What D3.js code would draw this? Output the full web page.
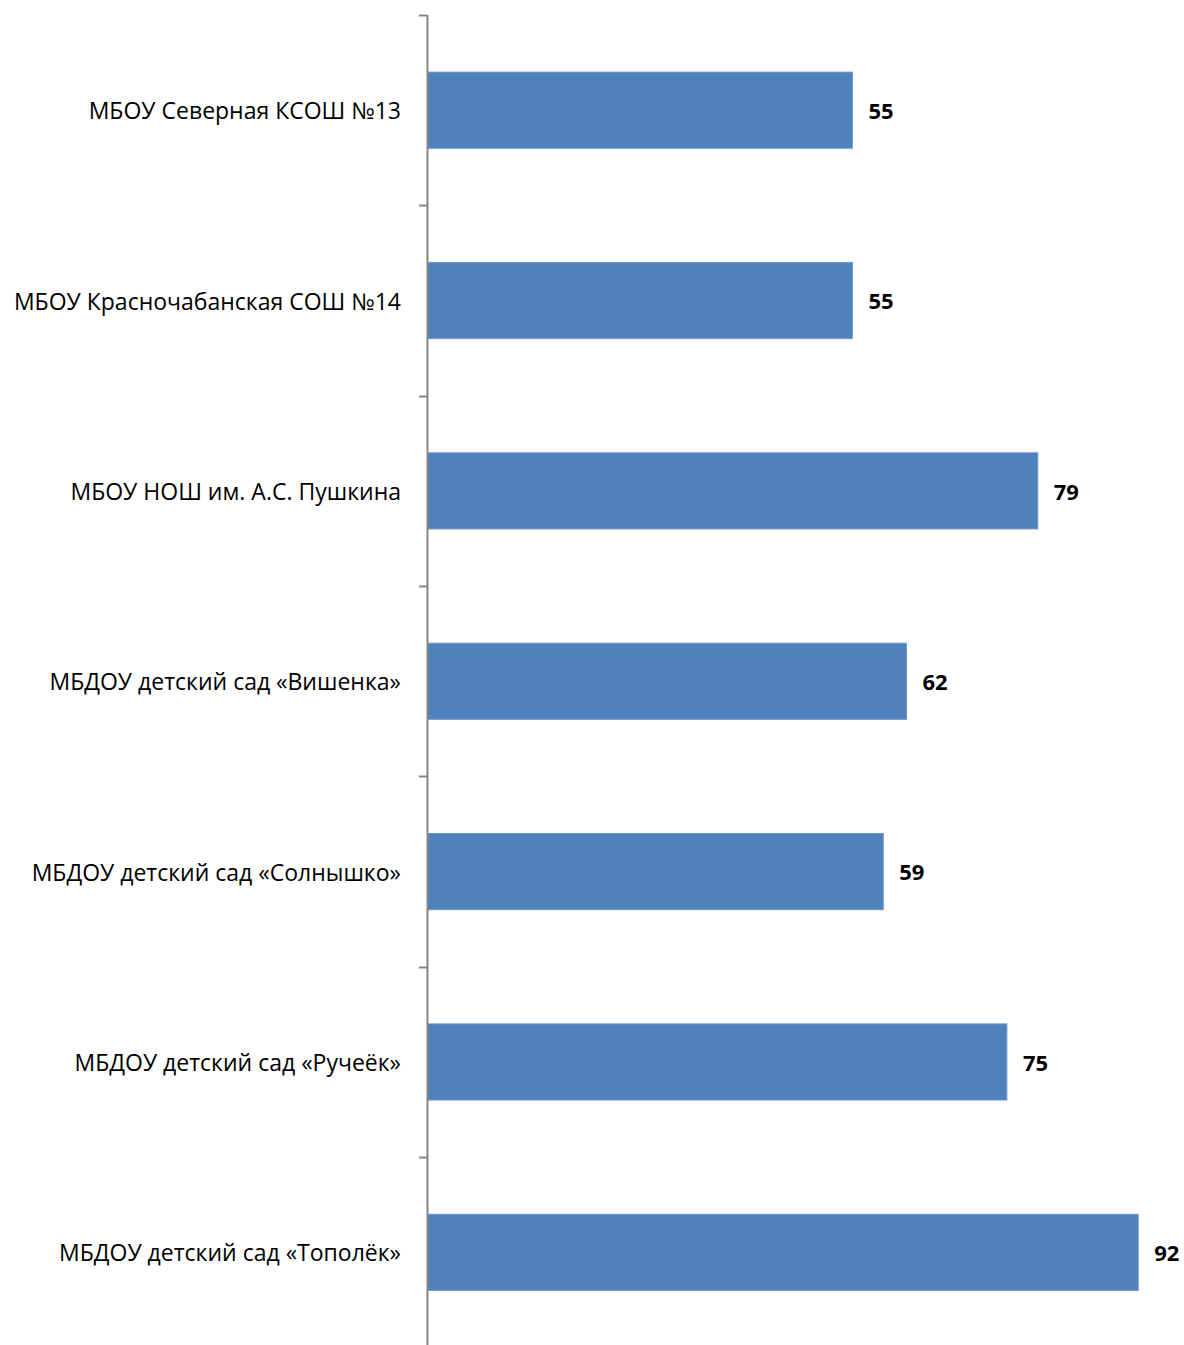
<!DOCTYPE html>
<html><head><meta charset="utf-8">
<script src="https://cdn.jsdelivr.net/npm/d3@7"></script>
<style>body{margin:0;background:#fff;} svg{display:block;}</style>
</head><body>
<script>
const categories = [
  "МБОУ Северная КСОШ №13",
  "МБОУ Красночабанская СОШ №14",
  "МБОУ НОШ им. А.С. Пушкина",
  "МБДОУ детский сад «Вишенка»",
  "МБДОУ детский сад «Солнышко»",
  "МБДОУ детский сад «Ручеёк»",
  "МБДОУ детский сад «Тополёк»"
];
const values = [55, 55, 79, 62, 59, 75, 92];

const W = 1184, H = 1345;
const svg = d3.select("body").append("svg").attr("width", W).attr("height", H);
const font = "'Open Sans', sans-serif";

const x = d3.scaleLinear().domain([0, 100]).range([427.5, 1200]);
const y = d3.scaleBand().domain(categories).range([15, 1347.5]).paddingInner(0.6).paddingOuter(0.3);

// bars
svg.selectAll("rect.bar").data(values).join("rect")
  .attr("class", "bar")
  .attr("x", x(0))
  .attr("y", (d, i) => y(categories[i]))
  .attr("width", d => x(d) - x(0))
  .attr("height", y.bandwidth())
  .attr("fill", "#4F81BD")
  .attr("stroke", "#6E97CB").attr("stroke-width", 1);

// axis
const step = y.step();
const axisG = svg.append("g");
axisG.append("line").attr("x1", 427.5).attr("x2", 427.5).attr("y1", 15).attr("y2", H + 5)
  .attr("stroke", "#868686").attr("stroke-width", 2);
const tickYs = d3.range(categories.length + 1).map(i => 15 + i * step);
axisG.selectAll("line.tick").data(tickYs).join("line").attr("class", "tick")
  .attr("x1", 419).attr("x2", 427.5)
  .attr("y1", d => Math.round(d) + 0.5).attr("y2", d => Math.round(d) + 0.5)
  .attr("stroke", "#868686").attr("stroke-width", 2);

// category labels
svg.selectAll("text.cat").data(categories).join("text")
  .attr("class", "cat")
  .attr("x", 401)
  .attr("y", d => y(d) + y.bandwidth() / 2 + 1)
  .attr("dy", "0.35em")
  .attr("text-anchor", "end")
  .attr("font-family", font).attr("font-size", 23).attr("fill", "#000")
  .text(d => d);

// value labels
svg.selectAll("text.val").data(values).join("text")
  .attr("class", "val")
  .attr("x", d => x(d) + 16)
  .attr("y", (d, i) => y(categories[i]) + y.bandwidth() / 2 + 1)
  .attr("dy", "0.35em")
  .attr("font-family", font).attr("font-weight", "bold").attr("font-size", 22).attr("fill", "#000")
  .text(d => d);
</script>
</body></html>
